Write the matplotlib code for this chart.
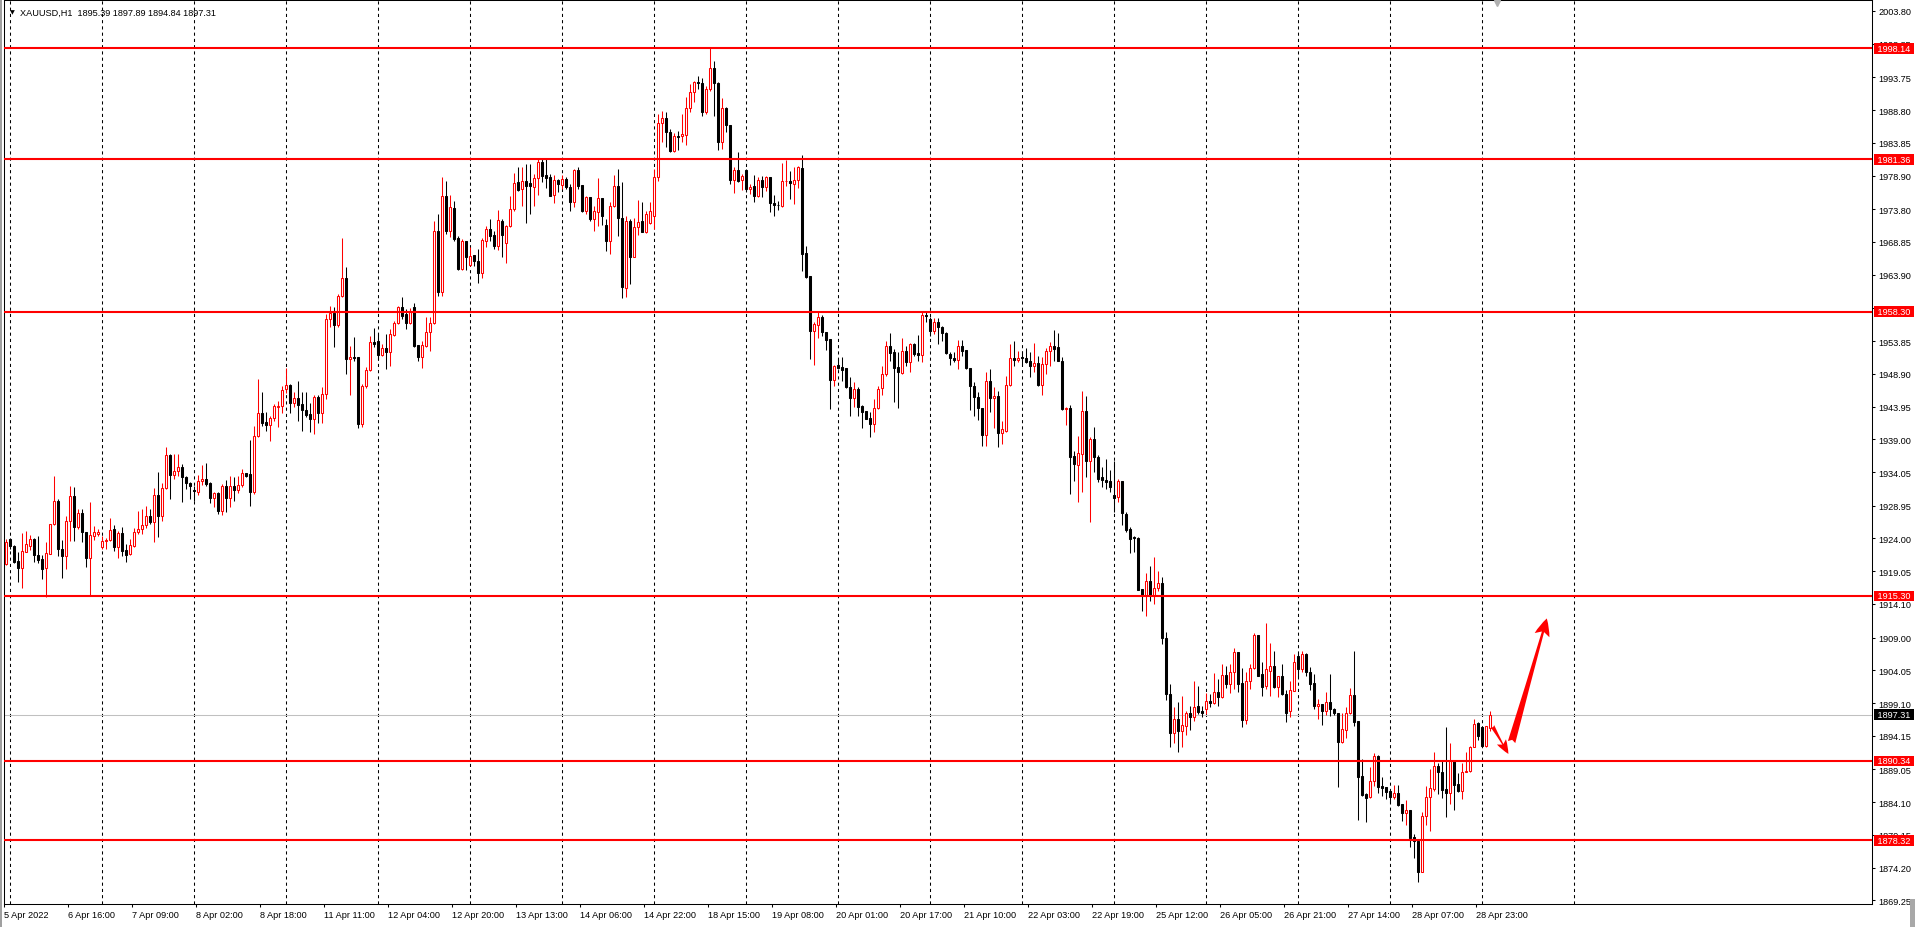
import matplotlib
matplotlib.use('Agg')
import matplotlib.pyplot as plt
from matplotlib.patches import Rectangle
import numpy as np

plt.rcParams['font.family'] = ['Liberation Sans', 'DejaVu Sans']

symbol = 'XAUUSD,H1'

# H1 bars, 5 Apr 23:00 .. 29 Apr 03:00
opens = [
    1920.14, 1923.92, 1922.81, 1920.59, 1919.48, 1922.00, 1922.91, 1923.92, 1921.55, 1920.89,
    1919.58, 1921.70, 1926.14, 1929.67, 1922.41, 1921.40, 1926.59, 1930.38, 1925.69, 1927.85,
    1924.93, 1921.05, 1924.43, 1924.68, 1922.66, 1923.62, 1923.72, 1925.43, 1922.76, 1924.78,
    1922.26, 1921.60, 1922.91, 1925.03, 1925.43, 1926.04, 1927.35, 1926.54, 1930.58, 1927.45,
    1931.59, 1936.63, 1933.65, 1934.16, 1934.86, 1933.25, 1932.39, 1931.33, 1931.08, 1932.74,
    1932.94, 1932.39, 1930.07, 1930.82, 1928.20, 1931.93, 1930.07, 1931.93, 1931.38, 1932.08,
    1933.85, 1933.75, 1931.08, 1939.45, 1942.93, 1941.67, 1941.16, 1942.17, 1943.94, 1943.99,
    1946.66, 1947.16, 1944.54, 1945.25, 1944.34, 1943.48, 1942.83, 1942.12, 1945.45, 1943.03,
    1945.85, 1957.20, 1958.06, 1956.34, 1960.63, 1963.35, 1951.15, 1951.40, 1951.40, 1941.31,
    1947.01, 1949.53, 1953.72, 1953.82, 1951.80, 1952.76, 1952.26, 1954.83, 1956.64, 1959.06,
    1957.96, 1956.55, 1958.97, 1953.27, 1951.51, 1953.07, 1955.19, 1956.55, 1970.47, 1961.34,
    1975.76, 1970.57, 1974.00, 1969.41, 1964.77, 1968.95, 1965.42, 1966.84, 1965.93, 1964.11,
    1969.06, 1970.77, 1969.91, 1968.30, 1972.03, 1968.65, 1971.22, 1973.80, 1977.88, 1976.82,
    1978.03, 1977.73, 1977.22, 1978.54, 1980.91, 1978.99, 1978.64, 1975.91, 1978.23, 1977.53,
    1978.33, 1977.22, 1974.96, 1979.75, 1977.43, 1973.59, 1975.61, 1972.38, 1973.44, 1975.50,
    1971.42, 1969.05, 1974.24, 1977.37, 1972.43, 1961.84, 1972.08, 1966.63, 1971.07, 1972.08,
    1970.41, 1971.67, 1972.83, 1978.63, 1986.80, 1987.56, 1985.44, 1982.67, 1984.88, 1984.83,
    1985.09, 1989.12, 1991.49, 1993.00, 1992.85, 1988.47, 1992.00, 1995.12, 1992.85, 1983.93,
    1989.07, 1986.55, 1978.28, 1979.74, 1978.23, 1979.74, 1976.87, 1977.37, 1975.76, 1978.23,
    1977.22, 1978.63, 1974.75, 1974.50, 1974.34, 1978.03, 1978.09, 1977.63, 1978.19, 1980.00,
    1967.14, 1963.66, 1955.44, 1956.35, 1957.56, 1955.29, 1954.18, 1948.03, 1950.25, 1949.95,
    1949.74, 1946.87, 1945.21, 1946.62, 1944.10, 1943.29, 1942.28, 1941.32, 1943.69, 1946.72,
    1948.89, 1953.12, 1952.16, 1950.00, 1949.04, 1952.32, 1950.75, 1953.43, 1952.01, 1951.81,
    1957.81, 1957.21, 1955.44, 1956.80, 1955.95, 1955.09, 1951.92, 1951.36, 1951.05, 1953.07,
    1952.57, 1949.74, 1947.12, 1945.36, 1943.69, 1939.66, 1947.88, 1945.20, 1945.51, 1939.91,
    1940.31, 1947.22, 1951.26, 1950.95, 1951.41, 1951.26, 1950.90, 1950.15, 1950.55, 1947.22,
    1950.35, 1952.32, 1953.07, 1952.92, 1950.90, 1943.59, 1943.74, 1936.53, 1935.17, 1936.78,
    1943.24, 1935.77, 1939.05, 1936.38, 1933.25, 1932.90, 1932.75, 1930.58, 1930.23, 1932.65,
    1927.71, 1925.44, 1924.28, 1924.02, 1916.36, 1915.35, 1917.62, 1915.35, 1916.46, 1917.22,
    1909.00, 1900.50, 1894.50, 1896.69, 1894.92, 1895.68, 1897.59, 1897.04, 1898.65, 1897.90,
    1898.20, 1899.46, 1899.16, 1900.82, 1900.07, 1903.34, 1901.98, 1903.80, 1906.82, 1902.18,
    1896.59, 1902.39, 1904.40, 1909.45, 1903.49, 1901.63, 1904.00, 1904.71, 1901.58, 1903.19,
    1900.47, 1897.85, 1900.97, 1906.22, 1904.25, 1906.52, 1903.85, 1902.08, 1898.70, 1898.91,
    1897.90, 1899.26, 1898.20, 1897.59, 1893.26, 1895.07, 1897.54, 1900.27, 1896.44, 1888.06,
    1885.34, 1884.84, 1887.36, 1891.14, 1886.55, 1886.35, 1885.84, 1884.84, 1885.49, 1883.78,
    1882.42, 1882.92, 1878.78, 1878.18, 1873.49, 1882.06, 1884.84, 1886.10, 1889.53, 1888.72,
    1886.10, 1885.44, 1890.38, 1886.85, 1885.85, 1888.62, 1888.77, 1892.50, 1896.03, 1895.43,
    1892.65, 1895.39,
]
highs = [
    1923.92, 1924.12, 1923.01, 1921.90, 1924.78, 1925.18, 1924.53, 1924.12, 1924.32, 1921.50,
    1923.42, 1926.14, 1933.50, 1929.97, 1923.77, 1927.45, 1931.99, 1931.74, 1928.46, 1928.46,
    1924.93, 1929.57, 1925.84, 1925.43, 1924.42, 1924.12, 1927.05, 1926.04, 1925.18, 1925.69,
    1923.16, 1923.92, 1925.53, 1928.21, 1928.46, 1928.96, 1928.46, 1931.59, 1934.01, 1932.34,
    1937.79, 1936.78, 1936.78, 1936.78, 1935.27, 1933.50, 1932.59, 1931.99, 1933.65, 1935.11,
    1935.36, 1932.49, 1930.98, 1931.08, 1932.24, 1932.84, 1933.45, 1933.24, 1933.40, 1934.56,
    1933.90, 1938.89, 1940.96, 1948.12, 1946.10, 1943.08, 1942.57, 1944.34, 1944.84, 1947.11,
    1949.74, 1947.37, 1946.10, 1947.77, 1946.10, 1946.21, 1944.44, 1945.75, 1945.70, 1946.86,
    1957.96, 1959.22, 1958.96, 1960.98, 1969.40, 1965.02, 1953.16, 1954.53, 1951.50, 1947.37,
    1949.89, 1954.68, 1955.84, 1954.93, 1953.42, 1954.93, 1955.69, 1956.95, 1959.22, 1960.58,
    1958.72, 1958.87, 1959.57, 1953.27, 1953.93, 1957.56, 1957.46, 1971.98, 1973.09, 1978.64,
    1978.13, 1975.96, 1975.11, 1969.76, 1969.31, 1969.06, 1968.05, 1966.94, 1967.74, 1969.41,
    1971.27, 1972.28, 1970.57, 1973.70, 1972.33, 1971.48, 1975.76, 1979.24, 1980.15, 1980.15,
    1980.65, 1980.65, 1979.14, 1981.56, 1981.56, 1981.56, 1979.14, 1979.04, 1978.38, 1979.04,
    1978.64, 1977.63, 1979.95, 1980.25, 1977.53, 1975.86, 1975.71, 1974.35, 1978.48, 1975.50,
    1972.33, 1974.95, 1978.98, 1979.89, 1977.88, 1972.73, 1972.33, 1972.43, 1975.20, 1974.85,
    1973.59, 1974.85, 1979.89, 1988.21, 1988.72, 1988.47, 1985.94, 1985.29, 1985.59, 1988.21,
    1990.73, 1992.75, 1993.26, 1993.91, 1993.61, 1992.40, 1998.30, 1996.28, 1993.00, 1990.58,
    1989.22, 1986.55, 1980.25, 1982.41, 1979.14, 1979.89, 1977.62, 1978.98, 1978.63, 1978.88,
    1978.78, 1978.63, 1975.96, 1975.00, 1980.80, 1981.30, 1979.65, 1980.15, 1980.30, 1982.02,
    1968.20, 1963.76, 1956.80, 1958.32, 1957.81, 1955.29, 1954.18, 1950.25, 1951.16, 1951.41,
    1949.74, 1948.38, 1947.63, 1946.87, 1944.20, 1943.29, 1943.19, 1945.10, 1947.12, 1950.15,
    1953.93, 1955.09, 1952.67, 1952.16, 1954.28, 1953.17, 1953.58, 1953.58, 1954.79, 1958.22,
    1958.22, 1957.46, 1957.41, 1957.41, 1956.10, 1955.19, 1952.16, 1952.16, 1954.08, 1954.08,
    1952.57, 1949.74, 1947.73, 1946.11, 1943.69, 1949.14, 1949.64, 1946.87, 1946.36, 1941.83,
    1948.63, 1953.42, 1953.93, 1952.32, 1952.42, 1952.77, 1952.26, 1953.58, 1951.66, 1951.41,
    1952.82, 1953.68, 1955.49, 1955.09, 1951.41, 1943.94, 1944.20, 1937.29, 1939.56, 1946.36,
    1945.51, 1939.41, 1940.82, 1936.68, 1934.77, 1936.03, 1934.41, 1935.77, 1933.00, 1932.75,
    1927.96, 1925.69, 1924.43, 1924.28, 1916.36, 1918.73, 1919.89, 1921.15, 1919.13, 1918.12,
    1909.80, 1902.00, 1898.50, 1899.21, 1900.22, 1897.95, 1898.70, 1902.49, 1901.68, 1898.70,
    1900.57, 1900.47, 1903.65, 1902.74, 1905.01, 1904.76, 1905.01, 1907.43, 1906.82, 1904.40,
    1903.75, 1905.01, 1909.65, 1909.45, 1905.26, 1911.21, 1908.18, 1907.03, 1903.14, 1905.01,
    1901.07, 1902.49, 1906.52, 1906.72, 1906.92, 1906.72, 1904.50, 1903.49, 1899.71, 1898.96,
    1900.72, 1903.49, 1898.35, 1897.59, 1897.54, 1898.45, 1901.33, 1907.03, 1896.44, 1890.64,
    1885.44, 1889.38, 1891.54, 1891.29, 1887.86, 1886.35, 1885.84, 1886.75, 1886.75, 1883.78,
    1884.43, 1882.92, 1879.29, 1878.43, 1882.67, 1886.60, 1889.12, 1891.65, 1890.03, 1890.54,
    1895.43, 1893.06, 1890.54, 1888.52, 1890.03, 1891.65, 1892.65, 1896.69, 1896.29, 1895.58,
    1895.68, 1897.89,
]
lows = [
    1919.99, 1922.41, 1920.29, 1917.47, 1916.56, 1921.90, 1922.31, 1920.39, 1920.29, 1917.87,
    1915.10, 1921.60, 1926.04, 1921.40, 1918.07, 1919.38, 1923.67, 1923.67, 1925.43, 1923.42,
    1919.63, 1915.35, 1923.82, 1924.32, 1922.41, 1922.41, 1923.62, 1922.16, 1921.00, 1921.40,
    1920.39, 1921.45, 1922.76, 1924.68, 1924.73, 1925.53, 1926.14, 1923.42, 1924.17, 1926.59,
    1931.49, 1929.97, 1933.00, 1933.50, 1929.47, 1931.49, 1929.97, 1929.72, 1930.62, 1932.13,
    1931.93, 1929.31, 1928.81, 1927.70, 1927.60, 1927.95, 1928.71, 1929.71, 1930.82, 1931.83,
    1933.35, 1928.96, 1930.72, 1939.30, 1941.06, 1940.30, 1938.79, 1941.82, 1940.91, 1942.93,
    1945.95, 1943.03, 1943.94, 1941.72, 1940.30, 1942.42, 1940.15, 1939.80, 1941.41, 1941.41,
    1945.10, 1956.04, 1952.91, 1955.94, 1960.48, 1948.88, 1945.75, 1950.79, 1940.71, 1940.81,
    1946.76, 1949.38, 1952.91, 1951.00, 1951.65, 1949.63, 1950.14, 1954.68, 1956.44, 1957.20,
    1955.69, 1956.45, 1952.92, 1950.80, 1949.74, 1952.92, 1952.41, 1956.45, 1960.63, 1960.73,
    1970.06, 1969.66, 1969.06, 1964.62, 1964.67, 1964.62, 1965.27, 1965.27, 1962.70, 1963.41,
    1968.15, 1969.06, 1967.79, 1967.69, 1966.53, 1965.63, 1971.07, 1973.59, 1976.62, 1974.35,
    1971.78, 1973.09, 1974.35, 1976.01, 1977.88, 1977.07, 1975.76, 1974.70, 1976.37, 1976.87,
    1976.87, 1973.49, 1974.10, 1976.87, 1973.44, 1973.09, 1971.98, 1970.47, 1971.32, 1971.42,
    1967.54, 1967.03, 1974.09, 1969.81, 1960.33, 1960.48, 1962.49, 1966.53, 1969.91, 1970.31,
    1970.21, 1971.52, 1970.81, 1978.13, 1983.93, 1983.17, 1982.51, 1982.51, 1982.82, 1983.93,
    1983.52, 1988.57, 1989.98, 1992.00, 1987.86, 1988.21, 1991.74, 1987.96, 1982.82, 1982.92,
    1985.44, 1977.62, 1976.21, 1977.98, 1976.77, 1976.46, 1976.11, 1974.85, 1975.61, 1975.61,
    1976.61, 1973.34, 1972.73, 1973.74, 1974.19, 1977.37, 1975.36, 1974.61, 1976.98, 1964.52,
    1963.40, 1951.16, 1950.25, 1954.28, 1954.69, 1952.57, 1943.59, 1947.12, 1949.64, 1947.88,
    1946.72, 1942.58, 1943.84, 1942.58, 1940.67, 1942.08, 1939.30, 1940.16, 1943.59, 1945.71,
    1948.53, 1950.90, 1944.60, 1943.69, 1948.89, 1950.15, 1949.24, 1951.66, 1950.90, 1950.75,
    1956.70, 1954.69, 1954.94, 1953.43, 1953.93, 1951.92, 1950.30, 1950.75, 1949.64, 1951.66,
    1949.64, 1943.49, 1942.58, 1941.98, 1938.04, 1938.04, 1943.19, 1940.67, 1937.79, 1938.30,
    1940.06, 1947.12, 1950.05, 1950.75, 1950.15, 1950.55, 1948.38, 1949.14, 1947.12, 1945.71,
    1948.84, 1950.15, 1950.80, 1950.80, 1943.44, 1941.17, 1930.73, 1932.75, 1929.47, 1931.08,
    1933.25, 1926.44, 1934.01, 1932.50, 1931.74, 1931.49, 1930.98, 1927.96, 1929.57, 1926.04,
    1925.03, 1921.81, 1921.91, 1916.21, 1913.08, 1912.22, 1914.59, 1914.09, 1916.11, 1908.00,
    1899.50, 1892.50, 1893.00, 1891.64, 1892.50, 1894.27, 1895.02, 1896.33, 1897.44, 1897.04,
    1897.44, 1898.45, 1898.96, 1898.70, 1899.81, 1901.38, 1900.62, 1901.23, 1900.72, 1895.53,
    1895.93, 1901.23, 1904.25, 1903.24, 1900.22, 1901.23, 1900.22, 1901.33, 1900.07, 1900.37,
    1896.28, 1896.94, 1900.87, 1902.99, 1903.75, 1903.24, 1901.07, 1898.20, 1896.69, 1895.83,
    1897.34, 1897.19, 1897.34, 1886.45, 1893.11, 1893.81, 1897.44, 1895.68, 1881.46, 1885.09,
    1881.15, 1884.69, 1886.50, 1885.52, 1885.09, 1884.58, 1883.98, 1884.58, 1883.58, 1881.31,
    1880.65, 1877.37, 1875.61, 1871.98, 1873.49, 1880.65, 1879.79, 1885.85, 1885.29, 1884.69,
    1881.81, 1883.83, 1882.97, 1885.69, 1884.58, 1888.62, 1888.72, 1892.45, 1893.56, 1892.40,
    1892.40, 1894.84,
]
closes = [
    1923.42, 1922.81, 1920.49, 1919.58, 1922.05, 1923.11, 1923.92, 1921.55, 1920.79, 1919.43,
    1921.75, 1926.14, 1929.62, 1922.36, 1921.40, 1926.59, 1930.38, 1925.69, 1927.85, 1924.93,
    1921.05, 1924.48, 1924.93, 1924.93, 1923.62, 1923.82, 1925.28, 1922.76, 1924.78, 1922.16,
    1921.55, 1923.01, 1924.93, 1925.43, 1925.99, 1927.35, 1926.54, 1930.58, 1927.45, 1931.59,
    1936.63, 1933.65, 1934.21, 1934.86, 1933.25, 1932.34, 1931.99, 1931.13, 1932.74, 1932.99,
    1932.24, 1930.07, 1930.82, 1928.20, 1931.93, 1930.07, 1931.93, 1931.38, 1932.08, 1933.85,
    1933.50, 1931.08, 1939.45, 1942.93, 1941.46, 1941.16, 1942.17, 1943.99, 1943.99, 1946.46,
    1947.16, 1944.54, 1945.25, 1944.24, 1943.48, 1942.73, 1942.12, 1945.35, 1943.03, 1945.85,
    1957.20, 1958.06, 1956.34, 1960.63, 1963.35, 1951.15, 1951.40, 1951.25, 1941.31, 1947.01,
    1949.53, 1953.67, 1953.42, 1951.80, 1952.76, 1952.26, 1954.93, 1956.64, 1958.96, 1957.70,
    1956.55, 1958.46, 1953.17, 1951.51, 1953.27, 1955.19, 1956.55, 1970.47, 1961.34, 1975.76,
    1970.57, 1974.10, 1969.31, 1964.77, 1968.95, 1966.63, 1966.79, 1965.93, 1964.11, 1969.11,
    1970.77, 1969.81, 1968.20, 1972.13, 1969.96, 1971.27, 1973.80, 1977.78, 1976.77, 1978.03,
    1977.38, 1977.33, 1978.54, 1980.91, 1978.89, 1978.59, 1975.86, 1978.23, 1977.63, 1978.33,
    1977.12, 1974.96, 1979.75, 1977.38, 1973.59, 1975.61, 1972.33, 1973.49, 1975.45, 1972.83,
    1969.05, 1974.24, 1977.27, 1972.43, 1962.09, 1972.08, 1966.63, 1971.07, 1971.92, 1970.41,
    1973.08, 1973.59, 1978.63, 1986.80, 1987.56, 1985.44, 1982.67, 1984.83, 1984.78, 1985.14,
    1989.12, 1991.49, 1993.00, 1992.85, 1988.47, 1992.00, 1995.12, 1992.85, 1983.93, 1989.07,
    1986.55, 1978.28, 1979.74, 1978.13, 1978.88, 1976.87, 1977.12, 1975.76, 1978.23, 1977.22,
    1978.63, 1974.70, 1974.50, 1974.40, 1978.03, 1978.13, 1977.78, 1978.19, 1980.15, 1967.04,
    1963.61, 1955.44, 1956.45, 1957.56, 1955.19, 1954.08, 1948.03, 1950.05, 1949.84, 1949.54,
    1946.87, 1945.31, 1946.62, 1943.84, 1943.19, 1942.08, 1941.32, 1943.69, 1946.62, 1948.89,
    1953.07, 1952.06, 1949.79, 1949.14, 1952.32, 1950.75, 1953.43, 1951.92, 1951.81, 1957.81,
    1957.71, 1955.34, 1956.80, 1955.95, 1955.09, 1952.01, 1951.26, 1951.05, 1953.07, 1952.42,
    1949.74, 1947.12, 1945.36, 1943.69, 1939.66, 1947.78, 1945.20, 1945.51, 1939.91, 1940.51,
    1947.22, 1951.26, 1951.05, 1951.26, 1951.26, 1950.75, 1950.05, 1950.55, 1947.22, 1950.40,
    1952.37, 1953.07, 1952.67, 1950.90, 1943.59, 1943.79, 1936.38, 1935.27, 1936.88, 1943.24,
    1935.77, 1939.05, 1936.38, 1933.00, 1932.90, 1932.60, 1931.84, 1930.18, 1932.65, 1927.81,
    1925.33, 1923.92, 1924.02, 1916.21, 1915.35, 1917.62, 1915.45, 1916.46, 1917.22, 1909.00,
    1900.50, 1894.50, 1896.70, 1894.92, 1895.78, 1897.59, 1897.04, 1898.55, 1897.80, 1897.59,
    1899.46, 1899.16, 1900.82, 1900.07, 1903.34, 1901.98, 1903.80, 1906.77, 1901.98, 1896.59,
    1902.39, 1904.40, 1909.45, 1903.24, 1901.58, 1904.20, 1904.71, 1901.58, 1903.14, 1900.47,
    1897.65, 1901.07, 1905.26, 1904.25, 1906.52, 1903.75, 1901.98, 1898.70, 1898.91, 1897.95,
    1899.26, 1898.20, 1897.59, 1893.26, 1895.17, 1897.54, 1900.27, 1896.28, 1887.96, 1885.24,
    1884.74, 1887.36, 1891.14, 1886.45, 1886.30, 1885.69, 1884.84, 1885.49, 1883.68, 1882.42,
    1882.92, 1878.68, 1878.18, 1873.59, 1882.06, 1884.84, 1886.20, 1889.53, 1888.62, 1886.00,
    1885.44, 1890.38, 1886.75, 1885.80, 1888.62, 1888.77, 1892.50, 1895.93, 1894.17, 1892.65,
    1895.58, 1897.31,
]

level_prices = [1998.14, 1981.36, 1958.30, 1915.30, 1890.34, 1878.32]
last_price = 1897.31

time_labels = ['5 Apr 2022', '6 Apr 16:00', '7 Apr 09:00', '8 Apr 02:00', '8 Apr 18:00',
               '11 Apr 11:00', '12 Apr 04:00', '12 Apr 20:00', '13 Apr 13:00', '14 Apr 06:00',
               '14 Apr 22:00', '18 Apr 15:00', '19 Apr 08:00', '20 Apr 01:00', '20 Apr 17:00',
               '21 Apr 10:00', '22 Apr 03:00', '22 Apr 19:00', '25 Apr 12:00', '26 Apr 05:00',
               '26 Apr 21:00', '27 Apr 14:00', '28 Apr 07:00', '28 Apr 23:00']
label_step = 16      # bars between time labels
grid_step = 23       # bars per trading day

price_ticks = [2003.80, 1998.85, 1993.75, 1988.80, 1983.85, 1978.90, 1973.80, 1968.85,
               1963.90, 1958.85, 1953.85, 1948.90, 1943.95, 1939.00, 1934.05, 1928.95,
               1924.00, 1919.05, 1914.10, 1909.00, 1904.05, 1899.10, 1894.15, 1889.05,
               1884.10, 1879.15, 1874.20, 1869.25]

# hand drawn arrows: (tail, tip) in (bar, price)
arrow_down = ((371.6, 1895.6), (375.6, 1891.4))
arrow_up = ((376.4, 1893.2), (385.2, 1911.9))

o = np.array(opens)
h = np.array(highs)
l = np.array(lows)
c = np.array(closes)
x = np.arange(len(o))
up = c >= o

fig = plt.figure(figsize=(19.2, 9.28), dpi=100)
ax = fig.add_axes([4 / 1920, 23 / 928, 1868 / 1920, 904 / 928])
ax.set_xlim(-0.5, 466.5)
ax.set_ylim(1868.70, 2005.46)

# day grid
for gx in range(1, 393, grid_step):
    ax.axvline(gx, color='black', lw=0.75, ls=(0, (3, 3)), zorder=1)

ax.axhline(last_price, color='#c0c0c0', lw=0.75, zorder=1.5)

# candles
ax.vlines(x[up], l[up], h[up], color='red', lw=0.75, zorder=2)
ax.vlines(x[~up], l[~up], h[~up], color='black', lw=0.75, zorder=2)
body_lo = np.minimum(o, c)
body_h = np.abs(c - o)
ax.bar(x[up], body_h[up], bottom=body_lo[up], width=0.5,
       facecolor='white', edgecolor='red', linewidth=0.75, zorder=3)
ax.bar(x[~up], body_h[~up], bottom=body_lo[~up], width=0.5,
       facecolor='black', edgecolor='black', linewidth=0.75, zorder=3)

# support / resistance levels
for lv in level_prices:
    ax.axhline(lv, color='red', lw=1.5, zorder=4)
    ax.annotate(f' {lv:.2f} ', xy=(1, lv), xycoords=('axes fraction', 'data'),
                xytext=(2.1, 0), textcoords='offset points', ha='left', va='center',
                fontsize=6.6, color='white', annotation_clip=False, zorder=10,
                bbox=dict(boxstyle='square,pad=0.1', fc='red', ec='none'))
ax.annotate(f' {last_price:.2f} ', xy=(1, last_price), xycoords=('axes fraction', 'data'),
            xytext=(2.1, 0), textcoords='offset points', ha='left', va='center',
            fontsize=6.6, color='white', annotation_clip=False, zorder=10,
            bbox=dict(boxstyle='square,pad=0.1', fc='black', ec='none'))

for (tail, tip), hl, hw, tw in [(arrow_down, 1.0, 0.75, 0.3), (arrow_up, 1.25, 1.1, 0.55)]:
    ax.annotate('', xy=tip, xytext=tail, zorder=5,
                arrowprops=dict(arrowstyle=f'fancy,head_length={hl},head_width={hw},tail_width={tw}',
                                fc='red', ec='red', lw=0, shrinkA=0, shrinkB=0, mutation_scale=10))

# chart shift marker
ax.plot([372.75], [2005.0], marker='v', color='#b0b0b0', ms=5, clip_on=False, zorder=6)

# axes
ax.yaxis.tick_right()
ax.set_yticks(price_ticks)
ax.set_yticklabels([f'{v:.2f}' for v in price_ticks])
ax.set_xticks([i * label_step - 0.4 for i in range(len(time_labels))])
ax.set_xticklabels(time_labels, ha='left')
ax.tick_params(axis='y', length=2.2, width=0.75, pad=2.5, labelsize=6.6)
ax.tick_params(axis='x', length=2.2, width=0.75, pad=2.0, labelsize=6.6)
for sp in ax.spines.values():
    sp.set_color('black')
    sp.set_linewidth(0.75)

# title line
fig.text(12 / 1920, 1 - 13 / 928, '▼', fontsize=4.5, ha='center', va='center',
         family=['DejaVu Sans'])
fig.text(20 / 1920, 1 - 13 / 928,
         f'{symbol}  {opens[-1]:.2f} {highs[-1]:.2f} {lows[-1]:.2f} {closes[-1]:.2f}',
         fontsize=6.6, ha='left', va='center')

# window frame bits
fig.patches.append(Rectangle((0, 0), 2 / 1920, 1, transform=fig.transFigure,
                             fc='#a0a0a0', ec='none'))
fig.patches.append(Rectangle((1910 / 1920, 0), 5 / 1920, 28 / 928, transform=fig.transFigure,
                             fc='#a8a8a8', ec='none'))

fig.savefig('out.png', dpi=100)
